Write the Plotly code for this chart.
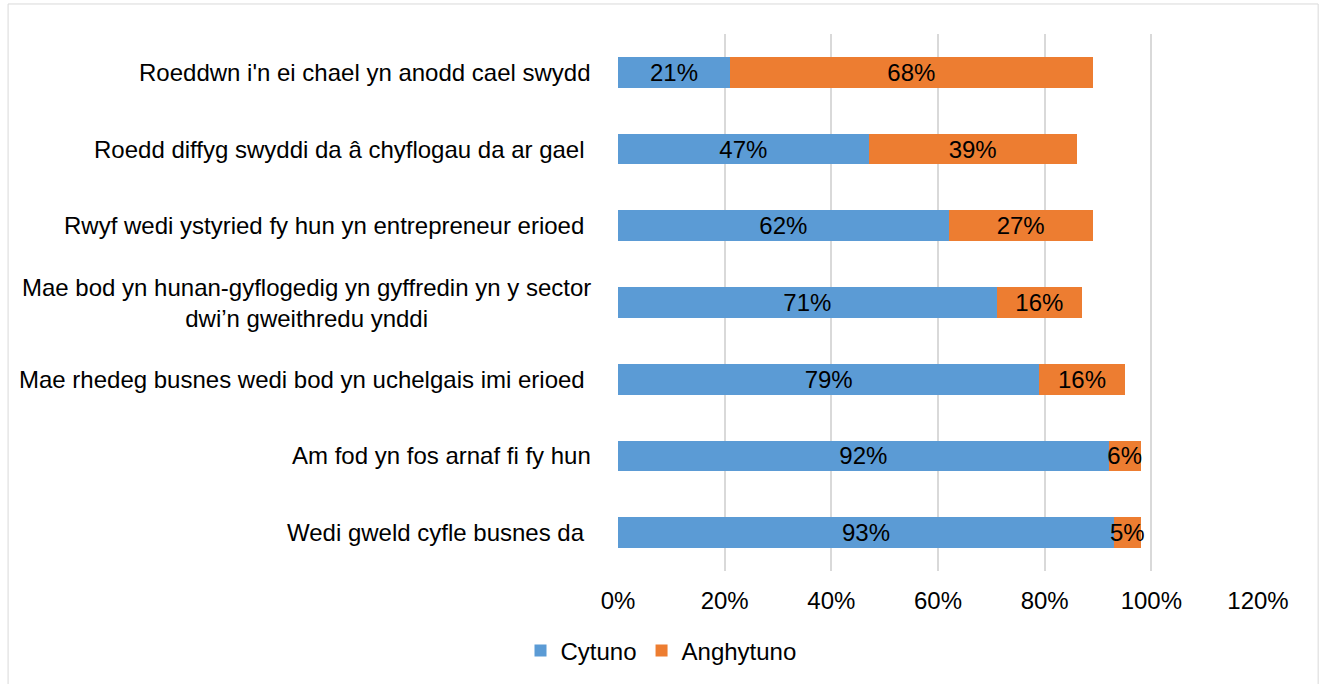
import plotly.graph_objects as go

categories = [
    "Roeddwn i'n ei chael yn anodd cael swydd",
    "Roedd diffyg swyddi da â chyflogau da ar gael ",
    "Rwyf wedi ystyried fy hun yn entrepreneur erioed ",
    "Mae bod yn hunan-gyflogedig yn gyffredin yn y sector<br>dwi’n gweithredu ynddi",
    "Mae rhedeg busnes wedi bod yn uchelgais imi erioed ",
    "Am fod yn fos arnaf fi fy hun",
    "Wedi gweld cyfle busnes da ",
]
cytuno = [0.21, 0.47, 0.62, 0.71, 0.79, 0.92, 0.93]
anghytuno = [0.68, 0.39, 0.27, 0.16, 0.16, 0.06, 0.05]
tick_vals = [0, 0.2, 0.4, 0.6, 0.8, 1.0, 1.2]
tick_text = ["0%", "20%", "40%", "60%", "80%", "100%", "120%"]

FONT = "Liberation Sans, Arial, sans-serif"
FS = 24
BLUE = "#5B9BD5"
ORANGE = "#ED7D31"

fig = go.Figure()
fig.add_trace(go.Bar(
    y=categories, x=cytuno, orientation="h", name="Cytuno",
    marker=dict(color=BLUE, line=dict(width=0)),
    text=[f"{round(v*100)}%" for v in cytuno],
    textposition="inside", insidetextanchor="middle", textangle=0,
    textfont=dict(color="black", size=FS, family=FONT),
))
fig.add_trace(go.Bar(
    y=categories, x=anghytuno, orientation="h", name="Anghytuno",
    marker=dict(color=ORANGE, line=dict(width=0)),
    text=[f"{round(v*100)}%" for v in anghytuno],
    textposition="inside", insidetextanchor="middle", textangle=0,
    textfont=dict(color="black", size=FS, family=FONT),
))

for c in categories:
    fig.add_annotation(
        x=0, xref="paper", y=c, yref="y", text=c, showarrow=False,
        xanchor="right", align="center", xshift=-25,
        font=dict(size=FS, family=FONT, color="black"),
    )

fig.add_shape(type="rect", xref="paper", yref="paper",
              x0=-0.953, x1=1.094, y0=-0.25, y1=1.0559,
              line=dict(color="#D9D9D9", width=1), fillcolor="rgba(0,0,0,0)", layer="below")

fig.update_layout(
    barmode="stack",
    bargap=0.6,
    width=1322, height=684,
    margin=dict(l=618, r=64, t=34, b=113),
    paper_bgcolor="white", plot_bgcolor="white",
    font=dict(family=FONT, size=FS, color="black"),
    uniformtext=dict(minsize=FS, mode="show"),
    xaxis=dict(range=[0, 1.2], tickvals=tick_vals, ticktext=tick_text,
               showgrid=True, gridcolor="#D9D9D9", gridwidth=2, zeroline=False,
               showline=False, ticks="", ticklabelstandoff=13,
               tickfont=dict(size=FS, family=FONT, color="black")),
    yaxis=dict(autorange="reversed", showticklabels=False, showgrid=False,
               zeroline=False, showline=False, ticks=""),
    legend=dict(orientation="h", xref="container", yref="container",
                x=0.5, xanchor="center", y=1 - 651 / 684, yanchor="middle",
                traceorder="normal",
                font=dict(size=FS, family=FONT, color="black"),
                itemwidth=30, tracegroupgap=0),
    showlegend=True,
)

fig.write_html("out.html", config={"displayModeBar": False},
               post_script="document.body.style.margin='0';")
